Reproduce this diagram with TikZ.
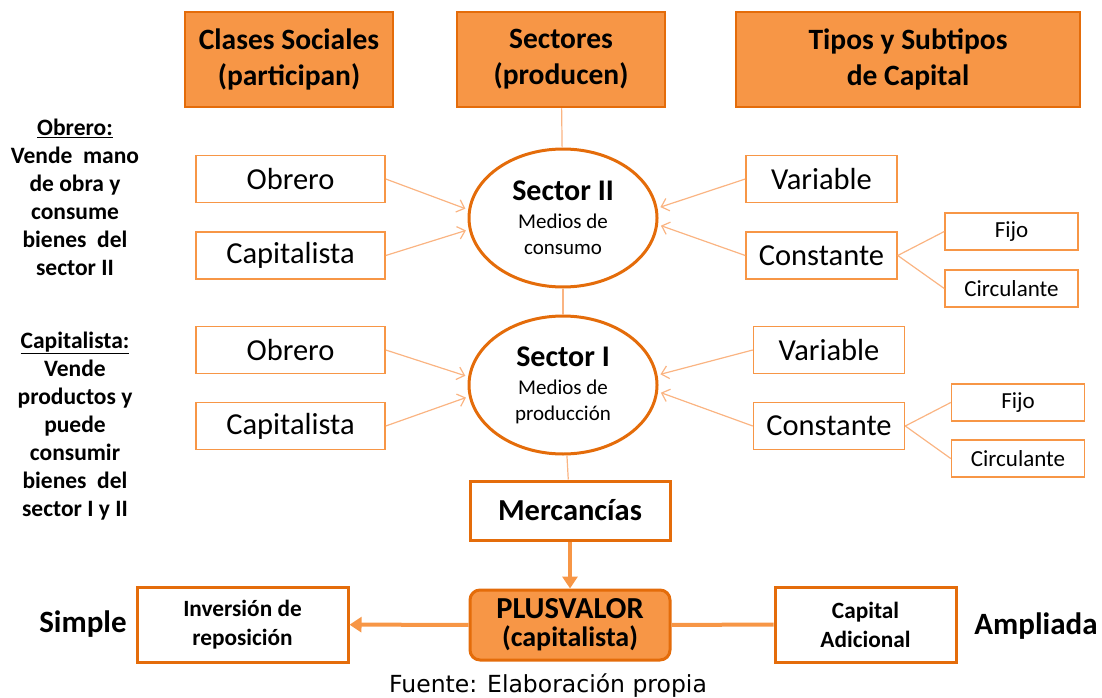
\documentclass[tikz,border=0pt]{standalone}
\usepackage{fontspec}
\setmainfont{Carlito}
\newfontfamily\fuentefont{DejaVu Sans}
\usepackage{tikz}
\usetikzlibrary{shapes.geometric, arrows.meta, positioning}
\definecolor{naranja}{HTML}{F79646}
\definecolor{naranjaosc}{HTML}{E46C0A}
\definecolor{naranjaclaro}{HTML}{FAB482}
\tikzstyle{header} = [rectangle, minimum height=95pt, inner sep=0pt, text centered, align=center, draw=naranjaosc, line width=2.5pt, fill=naranja, font=\fontsize{29.5}{36}\selectfont\bfseries]
\tikzstyle{clase} = [rectangle, minimum width=189pt, minimum height=47pt, inner sep=0pt, text centered, draw=naranja, line width=1.5pt, font=\fontsize{30.5}{32}\selectfont]
\tikzstyle{capital} = [rectangle, minimum width=151pt, minimum height=47pt, inner sep=0pt, text centered, draw=naranja, line width=1.5pt, font=\fontsize{30.5}{32}\selectfont]
\tikzstyle{subtipo} = [rectangle, minimum width=133pt, minimum height=37pt, inner sep=0pt, text centered, draw=naranja, line width=1.5pt, font=\fontsize{23}{26}\selectfont]
\tikzstyle{sector} = [ellipse, minimum width=188pt, minimum height=138pt, inner sep=0pt, align=center, draw=naranjaosc, line width=3pt]
\tikzstyle{resultado} = [rectangle, inner sep=0pt, align=center, draw=naranjaosc, line width=3pt, fill=white]
\tikzstyle{nota} = [align=center, font=\fontsize{23.5}{28}\selectfont\bfseries]
\tikzstyle{arrow} = [draw=naranjaclaro, line width=1.2pt, -{Straight Barb[length=7pt,width=13pt]}, shorten >=3pt]
\tikzstyle{link} = [draw=naranjaclaro, line width=1.2pt]
\tikzstyle{bigarrow} = [draw=naranja, line width=4pt, -{Triangle[length=12pt,width=15pt]}]

\begin{document}
\begin{tikzpicture}[x=1pt, y=-1pt]
\useasboundingbox (0,0) rectangle (1102,698);

% encabezados
\node (clases) [header, minimum width=208pt] at (289,59.5) {Clases Sociales\\(participan)};
\node (sectores) [header, minimum width=208pt] at (561,59.5) {Sectores\\(producen)};
\node (tipos) [header, minimum width=344pt] at (908,59.5) {Tipos y Subtipos\\de Capital};

% sectores
\node (s2) [sector, font=\fontsize{21}{26}\selectfont] at (563,218) {\fontsize{30}{34}\selectfont\bfseries Sector II\\[2pt]\fontsize{21}{26}\selectfont\mdseries Medios de\\consumo};
\node (s1) [sector, font=\fontsize{21}{26}\selectfont] at (563,385) {\fontsize{30}{34}\selectfont\bfseries Sector I\\[2pt]\fontsize{21}{26}\selectfont\mdseries Medios de\\producci\'on};

% clases sociales
\node (ob2) [clase] at (290.5,179) {Obrero};
\node (cap2) [clase] at (290.5,255.5) {Capitalista};
\node (ob1) [clase] at (290.5,350) {Obrero};
\node (cap1) [clase] at (290.5,426) {Capitalista};

% tipos de capital
\node (var2) [capital] at (821.5,179) {Variable};
\node (con2) [capital] at (821.5,255.5) {Constante};
\node (fijo2) [subtipo] at (1011.5,231.5) {Fijo};
\node (circ2) [subtipo] at (1011.5,288.5) {Circulante};
\node (var1) [capital] at (829,350) {Variable};
\node (con1) [capital] at (829,426) {Constante};
\node (fijo1) [subtipo] at (1018,402.5) {Fijo};
\node (circ1) [subtipo] at (1018,458.5) {Circulante};

% notas
\node (nobr) [nota] at (75,197) {\underline{Obrero:}\\Vende~~mano\\de obra y\\consume\\bienes~~del\\sector II};
\node (ncap) [nota] at (75,426) {\underline{Capitalista:}\\Vende\\productos y\\puede\\consumir\\bienes~~del\\sector I y II};

% resultados
\node (merc) [resultado, minimum width=200pt, minimum height=59pt, font=\fontsize{30.5}{32}\selectfont\bfseries] at (570,510.5) {Mercanc\'ias};
\node (plus) [resultado, fill=naranja, rounded corners=10pt, minimum width=200pt, minimum height=70pt] at (570,625) {\fontsize{30.5}{32}\selectfont\bfseries PLUSVALOR\\[6pt]\fontsize{28}{32}\selectfont\bfseries (capitalista)};
\node (inv) [resultado, minimum width=211pt, minimum height=75pt, font=\fontsize{23.3}{29}\selectfont\bfseries] at (242.5,624.5) {Inversi\'on de\\reposici\'on};
\node (adic) [resultado, minimum width=181pt, minimum height=75pt, font=\fontsize{23.3}{29}\selectfont\bfseries] at (865.5,624.5) {Capital\\Adicional};
\node (simple) [font=\fontsize{31}{32}\selectfont\bfseries] at (83,624) {Simple};
\node (ampl) [font=\fontsize{31}{32}\selectfont\bfseries] at (1036,626) {Ampliada};
\node (fuente) [font=\fontsize{23.5}{26}\fuentefont] at (548,686) {Fuente: Elaboraci\'on propia};

\draw [link] (sectores) -- (s2);
\draw [link] (s2) -- (s1);
\draw [link] (s1) -- (merc);

\draw [arrow] (ob2.east) -- (s2.175);
\draw [arrow] (cap2.east) -- (s2.187);
\draw [arrow] (var2.west) -- (s2.6);
\draw [arrow] (con2.west) -- (s2.-4);
\draw [link] (con2.east) -- (fijo2.west);
\draw [link] (con2.east) -- (circ2.west);

\draw [arrow] (ob1.east) -- (s1.175);
\draw [arrow] (cap1.east) -- (s1.187);
\draw [arrow] (var1.west) -- (s1.6);
\draw [arrow] (con1.west) -- (s1.-4);
\draw [link] (con1.east) -- (fijo1.west);
\draw [link] (con1.east) -- (circ1.west);

\draw [bigarrow] (merc) -- (plus);
\draw [bigarrow] (plus) -- (inv);
\draw [draw=naranja, line width=4pt] (plus) -- (adic);

\end{tikzpicture}
\end{document}
